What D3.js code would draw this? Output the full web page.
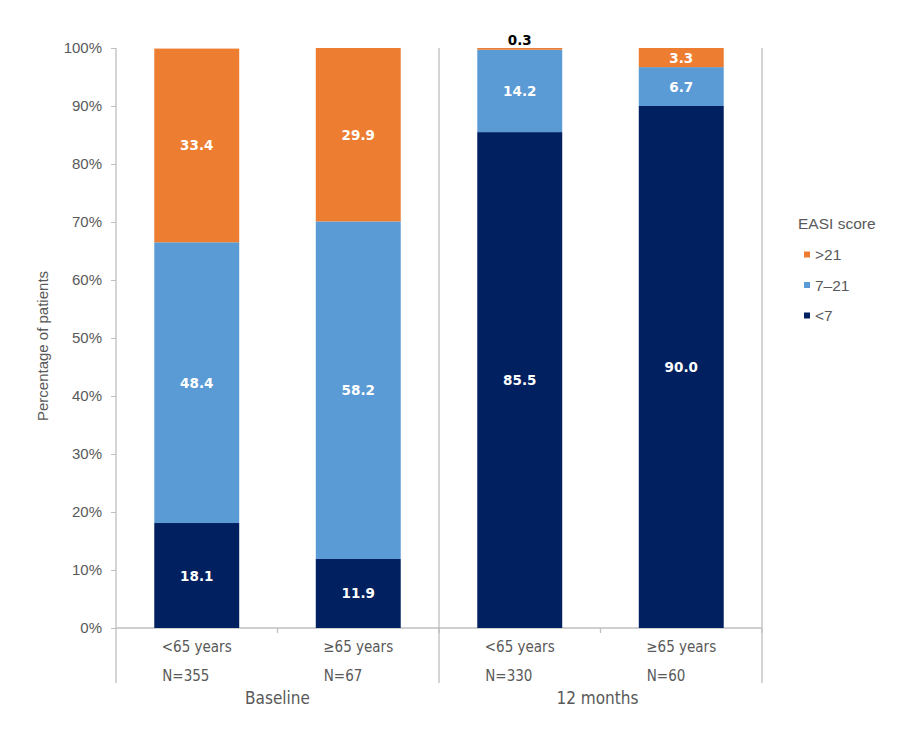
<!DOCTYPE html>
<html>
<head>
<meta charset="utf-8">
<script src="https://cdn.jsdelivr.net/npm/d3@7"></script>
<style>
  body { margin: 0; background: #fff; }
  svg { display: block; }
</style>
</head>
<body>
<svg id="chart" width="904" height="736"></svg>
<script>
// categories along x, with their group and sample size
var categories = ["b<65", "b>=65", "m<65", "m>=65"];
var catLabels = ["<65 years", "\u226565 years", "<65 years", "\u226565 years"];
var nLabels = ["N=355", "N=67", "N=330", "N=60"];
var groups = ["Baseline", "12 months"];

// EASI score bands (bottom to top) and their values per category
var bands = ["<7", "7\u201321", ">21"];
var lowVals = [18.1, 11.9, 85.5, 90.0];
var midVals = [48.4, 58.2, 14.2, 6.7];
var highVals = [33.4, 29.9, 0.3, 3.3];

var yTicks = [0, 10, 20, 30, 40, 50, 60, 70, 80, 90, 100];
var colors = { "<7": "#002060", "7\u201321": "#5B9BD5", ">21": "#ED7D31" };

function drawChart() {
    var svg = d3.select("#chart");
    var pLeft = 116, pRight = 762, pTop = 48, pBottom = 628;

    var rows = categories.map(function(c, i) {
        return { cat: c, "<7": lowVals[i], "7\u201321": midVals[i], ">21": highVals[i] };
    });
    var stacked = d3.stack().keys(bands)(rows);

    var x = d3.scaleBand().domain(categories).range([pLeft, pRight])
        .paddingInner(0.474).paddingOuter(0.237);
    var y = d3.scaleLinear().domain([0, 100]).range([pBottom, pTop]);

    var grey = "#595959", lineCol = "#BFBFBF";
    var sans = "'Liberation Sans', Arial, sans-serif";

    // y axis
    var yAxis = svg.append("g").attr("transform", "translate(" + pLeft + ",0)")
        .call(d3.axisLeft(y).tickValues(yTicks).tickSize(5).tickPadding(9).tickFormat(d => d + "%"));
    yAxis.select(".domain").remove();
    yAxis.selectAll("line").attr("stroke", lineCol);
    yAxis.selectAll("text").attr("fill", grey).style("font", "15px " + sans);

    // frame lines: y axis line, group separator, right edge - all running down past the axis
    var lineBottom = 683;
    [pLeft, x.step() * 2 + pLeft, pRight].forEach(function(lx) {
        svg.append("line").attr("x1", lx).attr("x2", lx)
            .attr("y1", pTop).attr("y2", lineBottom)
            .attr("stroke", lineCol).attr("stroke-width", 1.3);
    });

    // x axis baseline with small ticks at category boundaries
    svg.append("line").attr("x1", pLeft).attr("x2", pRight).attr("y1", pBottom).attr("y2", pBottom)
        .attr("stroke", lineCol).attr("stroke-width", 1.3);
    d3.range(1, categories.length + 1).forEach(function(i) {
        var tx = pLeft + x.step() * i;
        svg.append("line").attr("x1", tx).attr("x2", tx).attr("y1", pBottom).attr("y2", pBottom + 5)
            .attr("stroke", lineCol).attr("stroke-width", 1.3);
    });

    // stacked bars
    var layer = svg.selectAll("g.layer").data(stacked).enter().append("g")
        .attr("class", "layer").attr("fill", d => colors[d.key]);
    layer.selectAll("rect").data(d => d).enter().append("rect")
        .attr("x", d => x(d.data.cat))
        .attr("width", x.bandwidth())
        .attr("y", d => y(d[1]))
        .attr("height", d => y(d[0]) - y(d[1]));

    // value labels
    layer.selectAll("text").data(d => d).enter().append("text")
        .attr("x", d => x(d.data.cat) + x.bandwidth() / 2)
        .attr("y", function(d) {
            var v = d[1] - d[0];
            return v < 1 ? y(d[1]) - 3 : (y(d[0]) + y(d[1])) / 2 + 5;
        })
        .attr("text-anchor", "middle")
        .attr("fill", d => (d[1] - d[0]) < 1 ? "#000" : "#fff")
        .style("font", "bold 13.5px 'DejaVu Sans', Verdana, sans-serif")
        .text(d => (d[1] - d[0]).toFixed(1));

    // category and N labels
    var narrow = "15px 'Liberation Sans Narrow', 'DejaVu Sans Condensed', Arial, sans-serif";
    svg.selectAll("text.cat").data(categories).enter().append("text")
        .attr("class", "cat")
        .attr("x", d => x(d) + x.bandwidth() / 2).attr("y", 652)
        .attr("text-anchor", "middle").attr("fill", grey)
        .style("font", narrow).text((d, i) => catLabels[i]);
    svg.selectAll("text.n").data(categories).enter().append("text")
        .attr("class", "n")
        .attr("x", d => x(d) + 8).attr("y", 681)
        .attr("fill", grey)
        .style("font", narrow).text((d, i) => nLabels[i]);

    // group labels
    svg.selectAll("text.grp").data(groups).enter().append("text")
        .attr("class", "grp")
        .attr("x", (d, i) => pLeft + x.step() * (2 * i + 1) - i * 3).attr("y", 704)
        .attr("text-anchor", "middle").attr("fill", grey)
        .style("font", "17px 'Liberation Sans Narrow', 'DejaVu Sans Condensed', Arial, sans-serif")
        .text(d => d);

    // y axis title
    svg.append("text")
        .attr("transform", "translate(48,346) rotate(-90)")
        .attr("text-anchor", "middle").attr("fill", grey)
        .style("font", "15px " + sans)
        .text("Percentage of patients");

    // legend
    var legend = svg.append("g").attr("transform", "translate(798,0)");
    legend.append("text").attr("x", 0).attr("y", 229).attr("fill", grey)
        .style("font", "15.5px " + sans).text("EASI score");
    bands.slice().reverse().forEach(function(b, i) {
        var cy = 254.5 + i * 30.5;
        legend.append("rect").attr("x", 6).attr("y", cy - 3).attr("width", 6).attr("height", 6)
            .attr("fill", colors[b]);
        legend.append("text").attr("x", 17).attr("y", cy + 5.5).attr("fill", grey)
            .style("font", "15.5px " + sans).text(b);
    });
}

drawChart();
</script>
</body>
</html>
